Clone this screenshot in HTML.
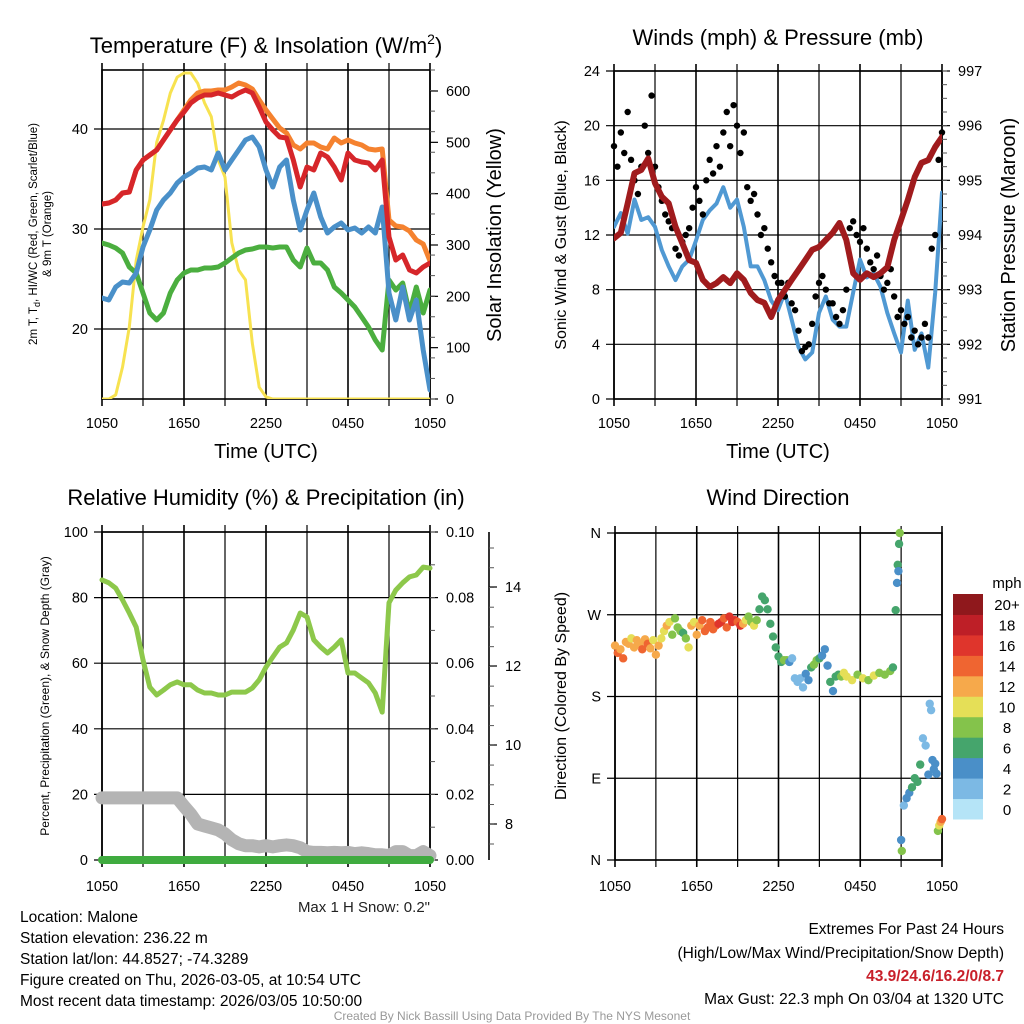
<!DOCTYPE html>
<html><head><meta charset="utf-8"><title>Malone station meteogram</title>
<style>
html,body{margin:0;padding:0;background:#fff;}
svg{display:block;font-family:"Liberation Sans",sans-serif;}
</style></head>
<body>
<svg id="root" width="1024" height="1024" viewBox="0 0 1024 1024" xmlns="http://www.w3.org/2000/svg">
<rect x="0" y="0" width="1024" height="1024" fill="#fff"/>
<text x="266" y="53" font-size="22" text-anchor="middle">Temperature (F) &amp; Insolation (W/m<tspan font-size="14" dy="-9">2</tspan><tspan dy="9">)</tspan></text>
<text x="778" y="45" font-size="22" text-anchor="middle">Winds (mph) &amp; Pressure (mb)</text>
<text x="266" y="505" font-size="22" text-anchor="middle">Relative Humidity (%) &amp; Precipitation (in)</text>
<text x="778" y="505" font-size="22" text-anchor="middle">Wind Direction</text>
<text x="0" y="0" font-size="11.5" text-anchor="middle" transform="translate(37,234) rotate(-90)">2m T, T<tspan font-size="9" dy="3">d</tspan><tspan dy="-3">, HI/WC (Red, Green, Scarlet/Blue)</tspan></text>
<text x="0" y="0" font-size="11.5" text-anchor="middle" transform="translate(51,234) rotate(-90)">&amp; 9m T (Orange)</text>
<text x="0" y="0" font-size="20" text-anchor="middle" transform="translate(501,235) rotate(-90)">Solar Insolation (Yellow)</text>
<text x="266" y="458" font-size="20" text-anchor="middle">Time (UTC)</text>
<text x="778" y="458" font-size="20" text-anchor="middle">Time (UTC)</text>
<text x="0" y="0" font-size="16" text-anchor="middle" transform="translate(566,235) rotate(-90)">Sonic Wind &amp; Gust (Blue, Black)</text>
<text x="0" y="0" font-size="20" text-anchor="middle" transform="translate(1015,235) rotate(-90)">Station Pressure (Maroon)</text>
<text x="0" y="0" font-size="12" text-anchor="middle" transform="translate(49,696) rotate(-90)">Percent, Precipitation (Green), &amp; Snow Depth (Gray)</text>
<text x="0" y="0" font-size="16" text-anchor="middle" transform="translate(566,696) rotate(-90)">Direction (Colored By Speed)</text>
<text x="430" y="912" font-size="15" text-anchor="end" fill="#222">Max 1 H Snow: 0.2"</text>
<text x="1007" y="588" font-size="15" text-anchor="middle">mph</text>
<g font-size="15.5" fill="#000">
<text x="20" y="922">Location: Malone</text>
<text x="20" y="943">Station elevation: 236.22 m</text>
<text x="20" y="964">Station lat/lon: 44.8527; -74.3289</text>
<text x="20" y="985">Figure created on Thu, 2026-03-05, at 10:54 UTC</text>
<text x="20" y="1006">Most recent data timestamp: 2026/03/05 10:50:00</text>
</g>
<g font-size="15.5" text-anchor="end">
<text x="1004" y="934">Extremes For Past 24 Hours</text>
<text x="1004" y="958">(High/Low/Max Wind/Precipitation/Snow Depth)</text>
<text x="1004" y="981" fill="#c8202a" font-weight="bold">43.9/24.6/16.2/0/8.7</text>
<text x="1004" y="1004">Max Gust: 22.3 mph On 03/04 at 1320 UTC</text>
</g>
<text x="512" y="1020" font-size="12" fill="#999" text-anchor="middle">Created By Nick Bassill Using Data Provided By The NYS Mesonet</text>
</svg>
<script>
const timeLabels = ["1050","1650","2250","0450","1050"];
const tempRed = [32.5,32.6,32.9,33.6,33.7,35.9,36.9,37.4,37.9,38.9,39.9,40.9,41.7,42.6,43.1,43.4,43.4,43.6,43.4,43.2,43.6,43.9,43.6,42.2,40.7,39.9,39.2,39.1,36.9,34.2,36.2,35.9,37.6,37.2,36.2,34.9,37.6,36.9,36.7,36.6,35.9,36.9,29.2,26.9,27.4,25.9,25.6,26.2,26.6];
const tempOrange = [32.5,32.6,32.9,33.6,33.7,35.9,36.9,37.4,37.9,38.9,39.9,40.9,41.9,42.9,43.6,43.8,43.8,43.9,43.9,44.2,44.6,44.4,44.0,42.9,41.9,41.0,40.1,39.6,38.4,38.0,38.6,38.6,38.2,38.0,39.1,38.6,38.9,38.6,38.4,38.0,37.9,38.0,30.9,30.3,30.2,29.8,28.9,28.5,26.8];
const tempBlue = [23.1,22.9,24.2,24.7,24.6,25.6,28.2,29.9,31.9,32.9,33.6,34.6,35.2,35.6,36.1,36.2,35.9,37.6,35.9,36.9,37.9,38.9,39.2,38.2,35.9,34.2,36.2,36.9,32.9,29.9,31.9,33.6,31.2,29.6,30.2,30.6,29.9,30.1,29.6,30.2,29.6,32.2,23.6,20.9,24.2,20.9,22.9,17.9,13.9];
const tempGreen = [28.6,28.4,28.1,27.6,26.2,25.6,23.6,21.6,20.9,21.6,23.6,24.9,25.6,25.9,25.9,26.1,26.1,26.2,26.6,27.1,27.6,27.9,28.0,28.2,28.2,28.1,28.2,28.2,26.9,26.2,28.1,26.6,26.6,25.9,24.2,23.6,22.9,22.2,21.2,20.2,18.9,17.9,24.9,23.9,24.6,21.6,24.2,21.6,23.9];
const insolation = [0,0,8,62,140,270,335,388,500,543,596,627,635,635,615,577,550,466,432,304,251,232,109,23,4,0,0,0,0,0,0,0,0,0,0,0,0,0,0,0,0,0,0,0,0,0,0,0,0];
const windSpeed = [12.6,13.6,12.1,14.6,13.1,13.3,12.6,10.9,9.7,8.7,9.7,10.2,11.6,13.1,13.8,14.3,15.5,14.0,14.6,12.6,9.7,9.7,8.7,7.2,6.5,7.8,5.8,3.8,2.9,3.4,6.3,7.5,5.8,5.3,5.3,7.8,10.2,8.9,9.2,8.2,6.3,4.8,3.4,7.2,3.6,4.8,2.3,7.8,15.1];
const pressure = [993.94,994.04,994.58,995.13,995.19,995.40,994.95,994.70,994.58,994.15,993.85,993.54,993.49,993.18,993.05,993.12,993.23,993.12,993.30,993.18,992.94,992.81,992.76,992.50,992.81,992.99,993.18,993.36,993.54,993.73,993.78,993.91,994.04,994.22,993.91,993.30,993.18,993.30,993.23,993.30,993.41,993.91,994.27,994.64,995.06,995.32,995.37,995.61,995.79];
const gusts = [18.5,17.0,19.5,18.0,21.0,17.5,16.0,15.0,17.0,20.0,18.0,22.2,17.0,15.5,14.5,13.5,13.0,12.5,11.0,10.5,11.5,12.0,12.5,14.0,15.5,14.5,13.5,16.0,17.5,16.5,18.5,17.0,19.5,21.0,18.5,21.5,20.0,18.0,19.5,15.5,14.5,15.0,13.5,12.0,12.5,11.0,10.0,9.0,8.5,8.5,7.5,8.5,7.0,6.5,5.0,3.5,3.8,4.0,5.5,7.5,8.5,9.0,8.0,7.0,7.0,6.0,5.5,6.5,8.0,12.5,13.0,12.0,11.5,12.5,11.0,10.0,9.5,10.5,9.0,8.0,8.5,9.5,7.5,6.0,6.5,5.5,6.0,4.5,5.0,4.0,4.5,5.5,4.5,11.0,12.0,17.5,19.5];
const relHumidity = [85.4,84.5,82.9,79.3,75.3,71.0,61.0,52.7,50.3,51.8,53.4,54.3,53.4,53.4,51.8,50.9,50.9,50.3,50.3,51.2,51.2,51.2,52.4,54.9,58.8,61.9,64.9,66.2,70.1,75.3,74.1,67.1,64.9,63.1,64.9,67.1,57.0,57.0,55.5,54.0,50.9,45.1,78.4,82.3,84.5,86.3,86.9,89.3,89.0];
const snowDepth = [8.66,8.66,8.66,8.66,8.66,8.66,8.66,8.66,8.66,8.66,8.66,8.66,8.45,8.25,8.0,7.95,7.9,7.85,7.75,7.6,7.5,7.45,7.45,7.42,7.45,7.42,7.45,7.47,7.45,7.4,7.3,7.28,7.28,7.27,7.28,7.27,7.28,7.25,7.27,7.25,7.22,7.22,7.2,7.3,7.3,7.2,7.2,7.3,7.2];
const precip = [0,0,0,0,0,0,0,0,0,0,0,0,0,0,0,0,0,0,0,0,0,0,0,0,0,0,0,0,0,0,0,0,0,0,0,0,0,0,0,0,0,0,0,0,0,0,0,0,0];
const dirHours = [0.0,0.2,0.4,0.6,0.8,1.0,1.2,1.4,1.6,1.8,2.0,2.2,2.4,2.6,2.8,3.0,3.2,3.4,3.6,3.8,4.0,4.2,4.4,4.6,4.8,5.0,5.2,5.4,5.6,5.8,6.0,6.2,6.4,6.6,6.8,7.0,7.2,7.4,7.6,7.8,8.0,8.2,8.4,8.6,8.8,9.0,9.2,9.4,9.6,9.8,10.0,10.2,10.4,10.6,10.8,11.0,11.2,11.4,11.6,11.8,12.0,12.2,12.4,12.6,12.8,13.0,13.2,13.4,13.6,13.8,14.0,14.2,14.4,14.6,14.8,15.0,15.2,15.4,15.6,15.8,16.0,16.2,16.4,16.6,16.8,17.0,17.4,17.8,18.2,18.6,19.0,19.4,19.8,20.2,20.4,20.6,20.7,20.75,20.8,20.85,20.9,21.0,21.05,21.2,21.4,21.6,21.8,22.0,22.2,22.4,22.6,22.8,23.0,23.1,23.2,23.3,23.4,23.5,23.6,23.7,23.8,23.9,24.0];
const dirDegrees = [236,228,232,222,240,238,244,234,242,238,232,243,238,233,242,226,236,244,252,258,262,248,266,256,252,250,244,234,258,262,248,258,264,252,256,262,254,258,260,262,266,256,268,262,264,262,258,260,264,268,262,258,264,276,290,286,276,260,246,234,224,218,220,220,218,222,200,196,200,190,205,198,212,215,220,222,225,232,214,196,186,202,204,202,206,202,198,204,200,198,203,206,204,208,212,275,305,325,318,348,360,22,10,60,68,74,80,90,86,105,134,126,94,172,165,110,100,106,95,32,38,42,45];
const dirSpeed = [13,14,12,15,12,13,11,12,12,13,14,12,15,13,11,12,12,10,10,12,10,9,8,8,8,7,9,10,12,10,13,13,14,14,15,14,15,14,16,17,15,15,16,17,17,15,16,12,11,9,9,10,8,6,6,6,6,6,6,6,6,6,8,8,4,2,2,2,2,2,4,4,6,8,8,6,4,4,4,6,4,6,6,8,10,10,10,8,10,8,10,8,8,8,6,6,4,6,4,6,8,4,8,2,4,4,6,6,6,6,2,2,4,2,2,4,4,4,4,8,10,12,14];
const speedBinLabels = ["0","2","4","6","8","10","12","14","16","18","20+"];
const speedBinColors = ["#b5e4f7","#7cb9e4","#4a8fc8","#45a56c","#84c34b","#e5df57","#f6a94b","#ef6531","#df352c","#be1f27","#8f181c"];

const NS = "http://www.w3.org/2000/svg";
const root = document.getElementById("root");
function mk(tag, attrs, parent){
  const e = document.createElementNS(NS, tag);
  for (const k in attrs) e.setAttribute(k, attrs[k]);
  (parent || root).appendChild(e);
  return e;
}
function lin(d0,d1,r0,r1){ return v => r0 + (v-d0)*(r1-r0)/(d1-d0); }
function hrs(n){ const a=[]; for(let i=0;i<n;i++) a.push(i*24/(n-1)); return a; }

function panelFrame(px0,px1,py0,py1,labelY,name){
  const g = mk("g",{});
  
  
  for (let i=0;i<=8;i++){
    const x = px0 + (px1-px0)*i/8;
    const l = mk("line",{x1:x,x2:x,y1:py0-7,y2:py1+7,stroke:"#000","stroke-width":i%2? 1.2:1.6},g);
    
    
  }
  for (let i=0;i<timeLabels.length;i++){
    const x = px0 + (px1-px0)*i/4;
    const t = mk("text",{x:x,y:labelY,"font-size":14.5,"text-anchor":"middle"},g);
    t.textContent = timeLabels[i];
    
    
  }
  const r = mk("rect",{x:px0,y:py0,width:px1-px0,height:py1-py0,fill:"none",stroke:"#000","stroke-width":1.6},g);
  
  
  return g;
}
function yAxis(vals, labels, sc, x, side, x0, x1, grid, name, fs){
  const g = mk("g",{});
  
  
  vals.forEach((v,i)=>{
    const y = sc(v);
    if (grid){
      const l = mk("line",{x1:x0-8,x2:x1+(side==="r"?8:0),y1:y,y2:y,stroke:"#000","stroke-width":1.2},g);
      
      
    } else {
      const l = mk("line",{x1:x,x2:x+(side==="r"?8:-8),y1:y,y2:y,stroke:"#000","stroke-width":1.2},g);
      
      
    }
    const t = mk("text",{x: side==="r"? x+16 : x-14, y:y+5,"font-size":fs||14.5,"text-anchor": side==="r"?"start":"end"},g);
    t.textContent = labels[i];
    
    
  });
}
function minorTicks(x, y0, y1, n, name){
  const g = mk("g",{});
  
  
  for (let i=0;i<=n;i++){
    const y = y0 + (y1-y0)*i/n;
    mk("line",{x1:x,x2:x+5,y1:y,y2:y,stroke:"#555","stroke-width":1},g);
  }
}
function line(xs, ys, sx, sy, color, w, name, clip){
  let d = "";
  for (let i=0;i<ys.length;i++) d += (i?"L":"M") + sx(xs[i]).toFixed(1) + "," + sy(ys[i]).toFixed(1);
  const p = mk("path",{d:d,fill:"none",stroke:color,"stroke-width":w,"stroke-linejoin":"round","stroke-linecap":"round"});
  if (clip) p.setAttribute("clip-path","url(#"+clip+")");
  
  
  return p;
}

const defs = mk("defs",{});
[["c1",102,70,328,329],["c2",614,70,328,329]].forEach(c=>{
  const cp = mk("clipPath",{id:c[0]},defs);
  mk("rect",{x:c[1],y:c[2],width:c[3],height:c[4]},cp);
});

{
  const sx = lin(0,24,102,430);
  const sy = lin(20,40,329,129);
  const syR = lin(0,600,399,91);
  panelFrame(102,430,70,399,428,"temperature-panel");
  yAxis([20,30,40],["20","30","40"],sy,102,"l",102,430,true,"temperature-y-axis");
  yAxis([0,100,200,300,400,500,600],["0","100","200","300","400","500","600"],syR,430,"r",0,0,false,"insolation-y-axis");
  minorTicks(430,70,399,16,"insolation-minor-ticks");
  const t = hrs(tempRed.length);
  line(t,insolation,sx,syR,"#f7e250",3,"insolation-line","c1");
  line(t,tempGreen,sx,sy,"#4bae3f",5,"heat-index-windchill-line","c1");
  line(t,tempBlue,sx,sy,"#4a90c9",5,"dewpoint-line","c1");
  line(t,tempOrange,sx,sy,"#f5822f",5,"temp-9m-line","c1");
  line(t,tempRed,sx,sy,"#d6262a",5,"temp-2m-line","c1");
}
{
  const sx = lin(0,24,614,942);
  const sy = lin(0,24,399,71);
  const syP = lin(991,997,399,71);
  panelFrame(614,942,71,399,428,"winds-panel");
  yAxis([0,4,8,12,16,20,24],["0","4","8","12","16","20","24"],sy,614,"l",614,942,true,"wind-y-axis");
  yAxis([991,992,993,994,995,996,997],["991","992","993","994","995","996","997"],syP,942,"r",0,0,false,"pressure-y-axis");
  minorTicks(942,71,399,24,"pressure-minor-ticks");
  const t = hrs(windSpeed.length);
  line(t,windSpeed,sx,sy,"#5099d3",4,"sonic-wind-line","c2");
  const tg = hrs(gusts.length);
  gusts.forEach((g,i)=>{
    const c = mk("circle",{cx:sx(tg[i]),cy:sy(g),r:3.2,fill:"#000"});
    
    
  });
  line(t,pressure,sx,syP,"#a01b1d",6,"pressure-line","c2");
}
{
  const sx = lin(0,24,102,430);
  const sy = lin(0,100,860,532);
  const syS = lin(8,10,824,745);
  panelFrame(102,430,532,860,891,"humidity-panel");
  yAxis([0,20,40,60,80,100],["0","20","40","60","80","100"],sy,102,"l",102,430,true,"humidity-y-axis");
  yAxis([0,20,40,60,80,100],["0.00","0.02","0.04","0.06","0.08","0.10"],sy,430,"r",0,0,false,"precip-y-axis");
  minorTicks(430,532,860,10,"precip-minor-ticks");
  const ax = mk("line",{x1:489,x2:489,y1:532,y2:860,stroke:"#000","stroke-width":1.6});
  
  
  yAxis([8,10,12,14],["8","10","12","14"],syS,489,"r",0,0,false,"snow-depth-y-axis");
  minorTicks(489,548,844,15,"snow-minor-ticks");
  const t = hrs(relHumidity.length);
  line(t,snowDepth,sx,syS,"#b4b4b4",13,"snow-depth-line");
  line(t,precip,sx,sy,"#3fab3f",8,"precipitation-line");
  line(t,relHumidity,sx,sy,"#8dc84b",5,"relative-humidity-line");
}
{
  const sx = lin(0,24,615,942);
  const sy = lin(0,360,860,533);
  panelFrame(615,942,533,860,891,"direction-panel");
  yAxis([0,90,180,270,360],["N","E","S","W","N"],sy,615,"l",615,942,true,"direction-y-axis");
  dirDegrees.forEach((d,i)=>{
    const bin = Math.min(10, Math.floor(dirSpeed[i]/2));
    const c = mk("circle",{cx:sx(dirHours[i]),cy:sy(d),r:4.2,fill:speedBinColors[bin]});
    
    
  });
  const h = (819-594)/speedBinLabels.length;
  speedBinLabels.forEach((lab,i)=>{
    const y = 819 - (i+1)*h;
    const r = mk("rect",{x:953,y:y,width:30,height:h+0.5,fill:speedBinColors[i]});
    
    
    const t = mk("text",{x:1007,y:y+h/2+6,"font-size":15,"text-anchor":"middle"});
    t.textContent = lab;
    
    
  });
}
</script>
</body></html>
